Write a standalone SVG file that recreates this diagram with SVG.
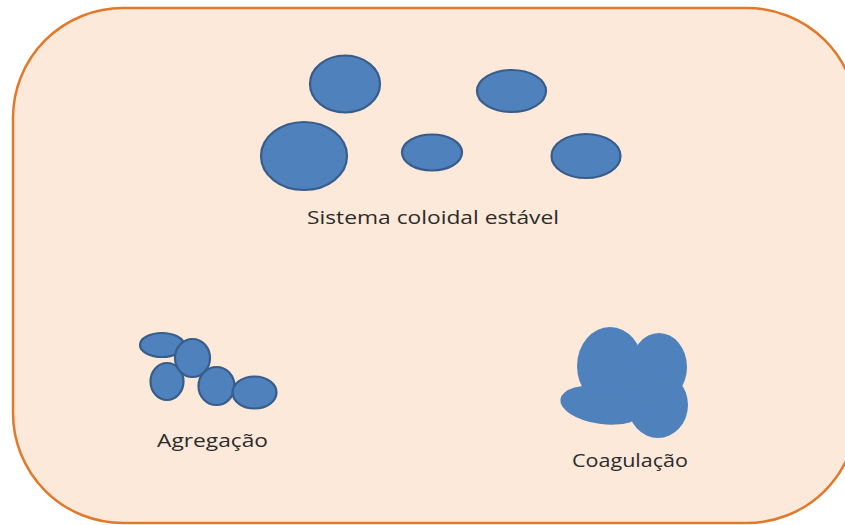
<svg xmlns="http://www.w3.org/2000/svg" width="845" height="525" viewBox="0 0 845 525">
  <style>
    .panel { fill: #fde9d9; stroke: #e2782a; stroke-width: 2.5; }
    .particle { fill: #4f81bd; stroke: #385d8a; stroke-width: 2.2; }
    .clump { fill: #4f81bd; }
    .label { font-family: "Open Sans", "Liberation Sans", sans-serif; font-size: 18px; fill: #2b2b2b; }
  </style>
  <rect width="845" height="525" fill="#ffffff"/>
  <!-- rounded panel, right side runs past the edge of the canvas -->
  <rect class="panel" x="13" y="8" width="844" height="515" rx="110" ry="110"/>

  <!-- stable colloidal system: separate particles -->
  <g id="stable">
    <ellipse class="particle" cx="345" cy="84" rx="35" ry="28.5"/>
    <ellipse class="particle" cx="511.5" cy="91" rx="34.5" ry="21"/>
    <ellipse class="particle" cx="304" cy="156" rx="43" ry="34"/>
    <ellipse class="particle" cx="432" cy="152.5" rx="30" ry="18"/>
    <ellipse class="particle" cx="586" cy="156" rx="34.5" ry="22"/>
    <text class="label" x="307" y="224" textLength="252" lengthAdjust="spacingAndGlyphs">Sistema coloidal estável</text>
  </g>

  <!-- aggregation: particles touching in a chain -->
  <g id="aggregation">
    <ellipse class="particle" cx="162" cy="345" rx="22" ry="12"/>
    <ellipse class="particle" cx="167" cy="381.5" rx="16.5" ry="18.5"/>
    <ellipse class="particle" cx="192.5" cy="358" rx="17.5" ry="19"/>
    <ellipse class="particle" cx="216.5" cy="386" rx="18" ry="19"/>
    <ellipse class="particle" cx="254.5" cy="392.5" rx="22" ry="16"/>
    <text class="label" x="157" y="447" textLength="111" lengthAdjust="spacingAndGlyphs">Agregação</text>
  </g>

  <!-- coagulation: particles merged into one mass -->
  <g id="coagulation">
    <ellipse class="clump" cx="610" cy="366" rx="33" ry="39"/>
    <ellipse class="clump" cx="659" cy="367" rx="28" ry="34"/>
    <ellipse class="clump" cx="658" cy="405" rx="30" ry="33"/>
    <ellipse class="clump" cx="602" cy="405" rx="42" ry="19" transform="rotate(8 602 405)"/>
    <text class="label" x="572" y="467" textLength="116" lengthAdjust="spacingAndGlyphs">Coagulação</text>
  </g>

  <g id="connectors"/>
</svg>
